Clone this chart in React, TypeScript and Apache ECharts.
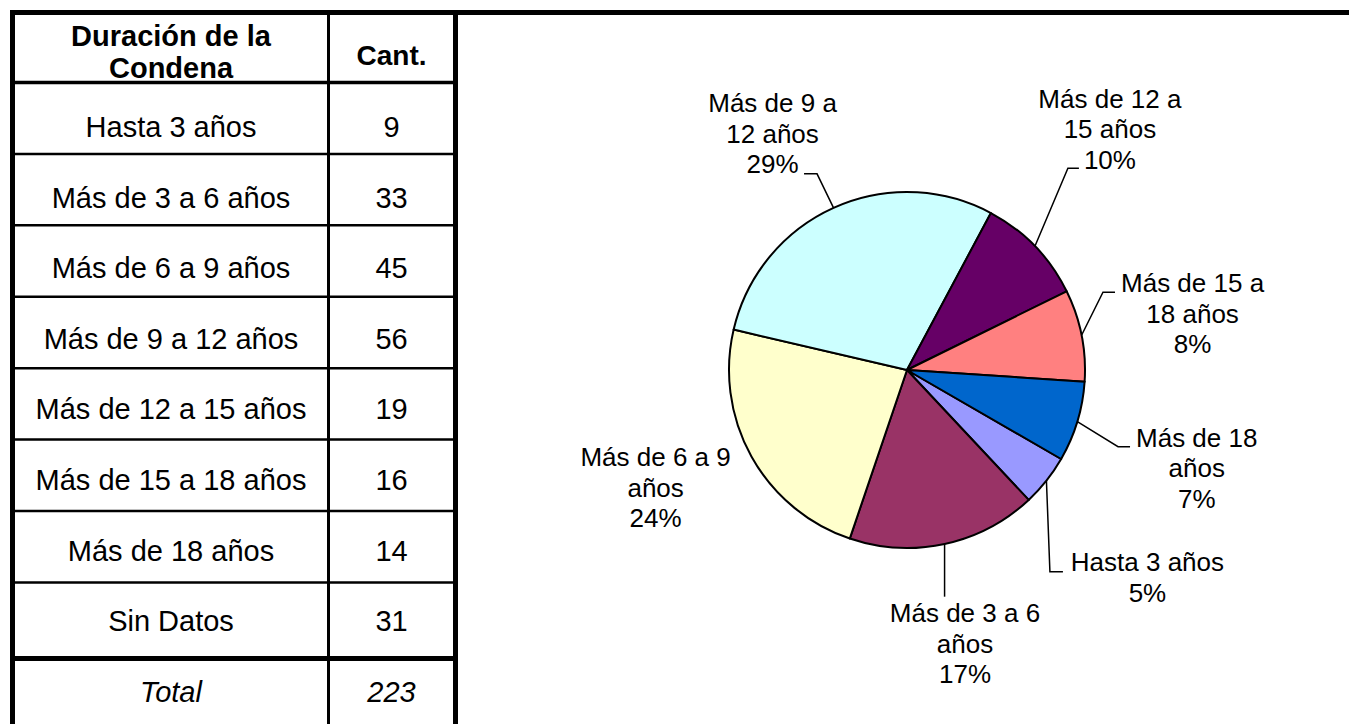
import React, { useEffect, useRef } from "react";
import * as echarts from "echarts";

// ---- Data ----
const CATEGORIES = [
  "Hasta 3 años",
  "Más de 3 a 6 años",
  "Más de 6 a 9 años",
  "Más de 9 a 12 años",
  "Más de 12 a 15 años",
  "Más de 15 a 18 años",
  "Más de 18 años",
  "Sin Datos",
];
const COUNTS = [9, 33, 45, 56, 19, 16, 14, 31];
const HEADERS = ["Duración de la\nCondena", "Cant."];
const TOTAL_LABEL = "Total";
const EXCLUDED_FROM_PIE = "Sin Datos";

// ---- Styles ----
const SLICE_COLORS = ["#9999FF", "#993366", "#FFFFCC", "#CCFFFF", "#660066", "#FF8080", "#0066CC"];
const FONT = "'Liberation Sans', Arial, sans-serif";
// number of words on the first line of each pie label (0 = no wrap)
const LABEL_WRAP_WORDS = [0, 5, 5, 4, 4, 4, 3];

// label placement relative to the slice's edge anchor point (library computed)
// text: offset of text block centre, line: [elbow, end] offsets (null = no leader)
const LABEL_PLACEMENT: { text: [number, number]; line: [number, number][] | null }[] = [
  { text: [101, 97], line: [[3.5, 91], [16.5, 91]] },
  { text: [20.4, 99.6], line: [[0, 52.7], [0, 52.7]] },
  { text: [-95.8, 31.4], line: null },
  { text: [-61, -74], line: [[-16.5, -34], [-29.5, -34]] },
  { text: [75, -117], line: [[33, -78], [44, -78]] },
  { text: [111, -21.6], line: [[21.4, -43], [33.4, -43]] },
  { text: [119.4, 46.6], line: [[40.7, 25], [52.7, 25]] },
];

// table geometry
const T_LEFT = 10;
const T_RIGHT = 458;
const T_TOP = 10;
const COL_DIV = 327;
const HEADER_BOTTOM = 82.5;
const ROW_H = 71.42;
const TOTAL_LINE = 658.5;
const ROW_TEXT_Y0 = 127;
const ROW_TEXT_DY = 70.6;
const PAGE_W = 1349;
const PAGE_H = 724;

function buildTable(): any[] {
  const els: any[] = [];
  const black = { fill: "#000" };
  const rect = (x: number, y: number, w: number, h: number) => ({
    type: "rect",
    shape: { x, y, width: w, height: h },
    style: black,
    silent: true,
  });
  const text = (x: number, y: number, t: string, extra: any = {}) => ({
    type: "text",
    x,
    y,
    silent: true,
    style: {
      text: t,
      fill: "#000",
      fontFamily: FONT,
      fontSize: 29,
      align: "center",
      verticalAlign: "middle",
      ...extra,
    },
  });
  const c1 = (T_LEFT + 5 + COL_DIV) / 2;
  const c2 = (COL_DIV + 3 + T_RIGHT - 5) / 2;

  // header
  els.push(text(c1, 52, HEADERS[0], { fontWeight: "bold", fontSize: 29, lineHeight: 32 }));
  els.push(text(c2, 55, HEADERS[1], { fontWeight: "bold", fontSize: 28 }));

  // rows
  for (let k = 0; k < CATEGORIES.length; k++) {
    const cy = ROW_TEXT_Y0 + k * ROW_TEXT_DY;
    els.push(text(c1, cy, CATEGORIES[k]));
    els.push(text(c2, cy, String(COUNTS[k])));
  }
  const total = COUNTS.reduce((a, b) => a + b, 0);
  const tcy = (TOTAL_LINE + PAGE_H + 5) / 2 - 2;
  els.push(text(c1, tcy, TOTAL_LABEL, { fontStyle: "italic" }));
  els.push(text(c2, tcy, String(total), { fontStyle: "italic" }));

  // lines
  for (let k = 1; k < CATEGORIES.length; k++) {
    const y = HEADER_BOTTOM + k * ROW_H;
    els.push(rect(T_LEFT, y - 1.25, T_RIGHT - T_LEFT, 2.5));
  }
  els.push(rect(T_LEFT, HEADER_BOTTOM - 1.75, T_RIGHT - T_LEFT, 3.5));
  els.push(rect(T_LEFT, TOTAL_LINE - 2.5, T_RIGHT - T_LEFT, 5));
  els.push(rect(T_LEFT, T_TOP, PAGE_W - T_LEFT, 5));
  els.push(rect(T_LEFT, T_TOP, 5, PAGE_H - T_TOP));
  els.push(rect(T_RIGHT - 5, T_TOP, 5, PAGE_H - T_TOP));
  els.push(rect(COL_DIV, T_TOP, 3, PAGE_H - T_TOP));
  return els;
}

function wrapName(name: string, idx: number): string {
  const n = LABEL_WRAP_WORDS[idx] || 0;
  if (!n) return name;
  const words = name.split(" ");
  if (words.length <= n) return name;
  return words.slice(0, n).join(" ") + "\n" + words.slice(n).join(" ");
}

export default function App() {
  const ref = useRef<HTMLDivElement>(null);
  useEffect(() => {
    if (!ref.current) return;
    const chart = echarts.init(ref.current, undefined, { renderer: "svg" });
    const pieData = CATEGORIES.map((name, i) => ({ name, value: COUNTS[i] }))
      .filter((d) => d.name !== EXCLUDED_FROM_PIE)
      .map((d, i) => ({
        ...d,
        itemStyle: { color: SLICE_COLORS[i] },
        labelLine: LABEL_PLACEMENT[i].line ? {} : { lineStyle: { opacity: 0 } },
      }));

    chart.setOption({
      animation: false,
      backgroundColor: "#ffffff",
      graphic: { elements: buildTable() },
      series: [
        {
          type: "pie",
          center: [907, 370],
          radius: 178,
          startAngle: 330,
          clockwise: true,
          percentPrecision: 0,
          avoidLabelOverlap: false,
          silent: true,
          emphasis: { scale: false },
          data: pieData,
          itemStyle: { borderColor: "#000", borderWidth: 2 },
          label: {
            show: true,
            position: "outside",
            formatter: (p: any) => wrapName(p.name, p.dataIndex) + "\n" + p.percent + "%",
            color: "#000",
            fontFamily: FONT,
            fontSize: 26,
            lineHeight: 30.5,
            align: "center",
          },
          labelLine: {
            show: true,
            length: 20,
            length2: 10,
            lineStyle: { color: "#000", width: 1.5 },
          },
          labelLayout: (params: any) => {
            const cfg = LABEL_PLACEMENT[params.dataIndex];
            const pts = params.labelLinePoints;
            if (!cfg || !pts || !pts[0]) return {};
            const p0 = pts[0];
            const out: any = {
              x: p0[0] + cfg.text[0],
              y: p0[1] + cfg.text[1],
              align: "center",
              verticalAlign: "middle",
            };
            if (cfg.line) {
              out.labelLinePoints = [
                [p0[0], p0[1]],
                [p0[0] + cfg.line[0][0], p0[1] + cfg.line[0][1]],
                [p0[0] + cfg.line[1][0], p0[1] + cfg.line[1][1]],
              ];
            } else {
              out.labelLinePoints = [
                [p0[0], p0[1]],
                [p0[0], p0[1]],
                [p0[0], p0[1]],
              ];
            }
            return out;
          },
        },
      ],
    });
    return () => chart.dispose();
  }, []);

  return (
    <div
      ref={ref}
      style={{ position: "fixed", left: 0, top: 0, width: PAGE_W, height: PAGE_H, background: "#fff" }}
    />
  );
}
